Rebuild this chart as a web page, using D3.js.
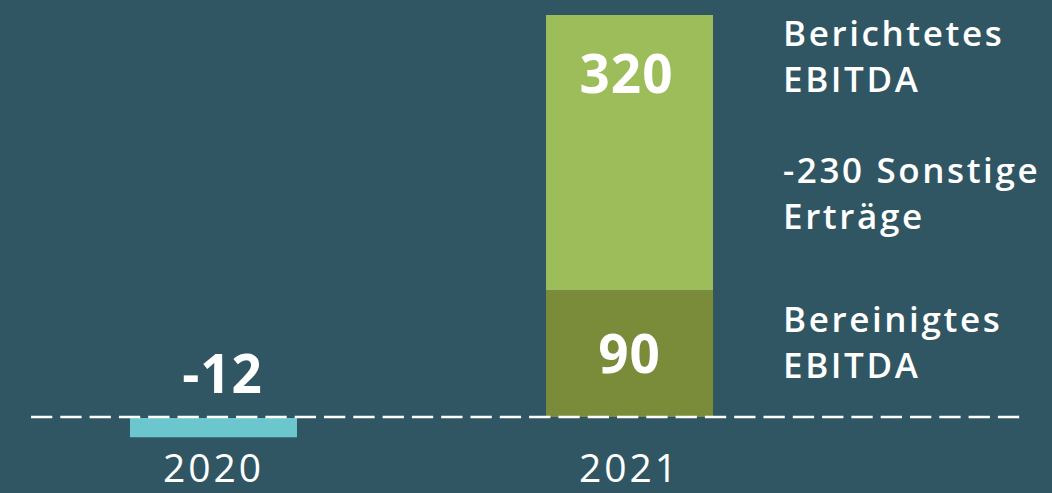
<!DOCTYPE html>
<html>
<head>
<meta charset="utf-8">
<script src="https://cdn.jsdelivr.net/npm/d3@7"></script>
<style>
  html, body { margin: 0; padding: 0; background: #2f5662; }
  svg { display: block; }
</style>
</head>
<body>
<svg id="chart" width="1052" height="493"></svg>
<script>
const years = ["2020", "2021"];
const adjusted = [-12, 90];        // Bereinigtes EBITDA
const otherIncome = [0, 230];      // Sonstige Erträge (stacked on top)
const reported = [null, 320];      // Berichtetes EBITDA
const valueLabels = ["-12", "90", "320"];
const legendLines = [
  ["Berichtetes", "EBITDA"],
  ["-230 Sonstige", "Erträge"],
  ["Bereinigtes", "EBITDA"]
];

const W = 1052, H = 493;
const svg = d3.select("#chart");
svg.append("rect").attr("width", W).attr("height", H).attr("fill", "#2f5662");

const x = d3.scaleBand().domain(years).range([130, 713]).paddingInner(0.5986).paddingOuter(0);
const y = d3.scalePow().exponent(0.91).domain([0, 320]).range([417, 15]);

const FONT = "'Open Sans', 'DejaVu Sans', sans-serif";

// bars
const g = svg.append("g");
g.append("rect")
  .attr("x", x("2020")).attr("width", x.bandwidth())
  .attr("y", y(0) + 1).attr("height", y(adjusted[0]) - y(0) - 1)
  .attr("fill", "#6cc6ce");
g.append("rect")
  .attr("x", x("2021")).attr("width", x.bandwidth())
  .attr("y", y(adjusted[1])).attr("height", y(0) - y(adjusted[1]))
  .attr("fill", "#7a8c3a");
g.append("rect")
  .attr("x", x("2021")).attr("width", x.bandwidth())
  .attr("y", y(adjusted[1] + otherIncome[1])).attr("height", y(adjusted[1]) - y(adjusted[1] + otherIncome[1]))
  .attr("fill", "#9dbc5a");

// dashed baseline
svg.append("line")
  .attr("x1", 31).attr("x2", 1021)
  .attr("y1", y(0)).attr("y2", y(0))
  .attr("stroke", "#ffffff").attr("stroke-width", 2.6)
  .attr("stroke-dasharray", "21.3 8");

// value labels
const lbl = (t, cx, by) => svg.append("text")
  .attr("x", cx).attr("y", by)
  .attr("text-anchor", "middle")
  .attr("fill", "#ffffff")
  .attr("font-family", FONT).attr("font-weight", 700)
  .attr("font-size", 53).attr("letter-spacing", 1)
  .text(t);

const c20 = x("2020") + x.bandwidth() / 2;
const c21 = x("2021") + x.bandwidth() / 2;
lbl(valueLabels[0], c20 + 9, y(0) - 24);
lbl(valueLabels[1], c21, y(adjusted[1]) + 83);
lbl(valueLabels[2], c21 - 3, y(reported[1]) + 78);

// year labels
svg.selectAll("text.year").data(years).enter().append("text")
  .attr("class", "year")
  .attr("x", d => x(d) + x.bandwidth() / 2)
  .attr("y", 482)
  .attr("text-anchor", "middle")
  .attr("fill", "#ffffff")
  .attr("font-family", FONT).attr("font-weight", 400)
  .attr("font-size", 39).attr("letter-spacing", 3)
  .text(d => d);

// legend labels on right
const legendY = [46, 183, 332];
legendLines.forEach((lines, i) => {
  const t = svg.append("text")
    .attr("x", 783).attr("y", legendY[i])
    .attr("fill", "#ffffff")
    .attr("font-family", FONT).attr("font-weight", 600)
    .attr("font-size", 35).attr("letter-spacing", 2.6);
  lines.forEach((ln, j) => {
    t.append("tspan").attr("x", 783).attr("dy", j === 0 ? 0 : 45.5).text(ln);
  });
});
</script>
</body>
</html>
